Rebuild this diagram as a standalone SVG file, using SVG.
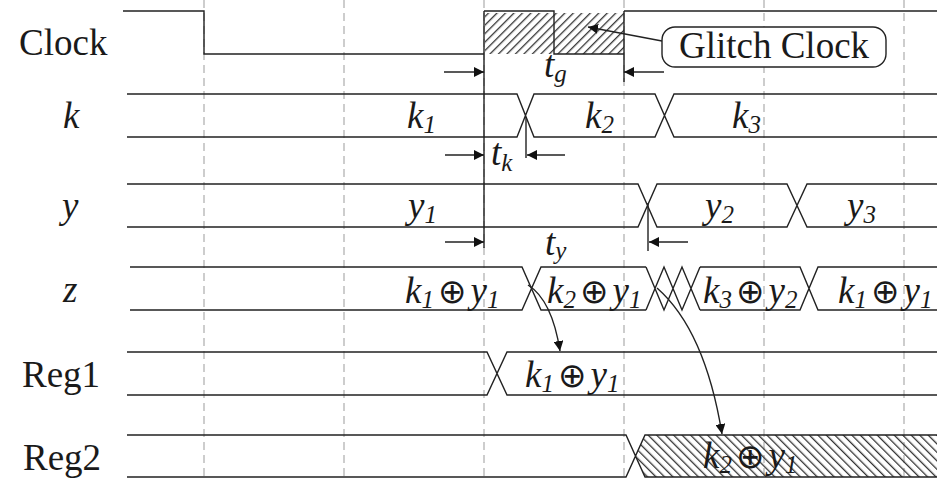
<svg xmlns="http://www.w3.org/2000/svg" width="937" height="478" viewBox="0 0 937 478" font-family="Liberation Serif, DejaVu Serif, serif">
<style>
.grid{stroke:#bdbdbd;stroke-width:1.5;stroke-dasharray:8 5;fill:none}
.sig{stroke:#222;stroke-width:1.4;fill:none}
text{fill:#1a1a1a}
.lbl{font-size:37px}
.m{font-size:37px;font-style:italic}
.sub{font-size:25px}
.op{font-size:34px;font-style:normal}
.arr{stroke:#222;stroke-width:1.4;fill:none;marker-end:url(#ah)}
</style>
<defs>
<marker id="ah" markerUnits="userSpaceOnUse" viewBox="0 0 10 10" refX="10" refY="5" markerWidth="10" markerHeight="10" orient="auto"><path d="M0,0 L10,5 L0,10 z" fill="#111"/></marker>
<pattern id="hatchF" patternUnits="userSpaceOnUse" width="6" height="6" patternTransform="rotate(45)"><rect x="0" y="0" width="1.3" height="6" fill="#333"/></pattern>
<pattern id="hatchB" patternUnits="userSpaceOnUse" width="6" height="6" patternTransform="rotate(-45)"><rect x="0" y="0" width="1.3" height="6" fill="#333"/></pattern>
</defs>
<rect width="937" height="478" fill="#fff"/>
<g id="gridlines">
<path class="grid" d="M204,0 V478 M344,0 V478 M484,0 V478 M624,0 V478 M764,0 V478 M904,0 V478"/>
</g>
<g id="clock">
<text class="lbl" x="19" y="55" font-family="Liberation Serif, serif">Clock</text>
<rect x="485" y="13" width="139" height="41" fill="url(#hatchF)"/>
<path class="sig" d="M123,11 H204 V54 H484 M484,11 H554 V54 H624 M624,11 H937"/>
</g>
<g id="glitch">
<rect x="662" y="27" width="224" height="40" rx="13" fill="#fff" stroke="#222" stroke-width="1.4"/>
<text class="lbl" x="774" y="58" text-anchor="middle" font-family="Liberation Serif, serif">Glitch Clock</text>
</g>
<g id="k" font-family="Liberation Serif, serif">
<text class="m" x="63" y="128">k</text>
<path class="sig" d="M127,94 H517 L534,137 H655 L674,94 H937 M127,137 H517 L534,94 H655 L674,137 H937"/>
<text class="m" x="407" y="128">k<tspan class="sub" dy="5">1</tspan></text>
<text class="m" x="585" y="128">k<tspan class="sub" dy="5">2</tspan></text>
<text class="m" x="732" y="128">k<tspan class="sub" dy="5">3</tspan></text>
</g>
<g id="y" font-family="Liberation Serif, serif">
<text class="m" x="62" y="218">y</text>
<path class="sig" d="M127,184 H638 L657,227 H787 L807,184 H937 M127,227 H638 L657,184 H787 L807,227 H937"/>
<text class="m" x="408" y="218">y<tspan class="sub" dy="5">1</tspan></text>
<text class="m" x="705" y="218">y<tspan class="sub" dy="5">2</tspan></text>
<text class="m" x="847" y="218">y<tspan class="sub" dy="5">3</tspan></text>
</g>
<g id="z" font-family="Liberation Serif, serif">
<text class="m" x="63" y="302">z</text>
<path class="sig" d="M130,267 H522 L541,310 H646 M130,310 H522 L541,267 H646 M646,267 L664,310 L682,267 L700,310 M646,310 L664,267 L682,310 L700,267 M700,267 H800 L818,310 H937 M700,310 H800 L818,267 H937"/>
<text class="m" x="405" y="303">k<tspan class="sub" dy="5">1</tspan><tspan class="op" font-family="DejaVu Sans, sans-serif" dx="4" dy="-5">⊕</tspan><tspan dx="4">y</tspan><tspan class="sub" dy="5">1</tspan></text>
<text class="m" x="547" y="303">k<tspan class="sub" dy="5">2</tspan><tspan class="op" font-family="DejaVu Sans, sans-serif" dx="4" dy="-5">⊕</tspan><tspan dx="4">y</tspan><tspan class="sub" dy="5">1</tspan></text>
<text class="m" x="703" y="303">k<tspan class="sub" dy="5">3</tspan><tspan class="op" font-family="DejaVu Sans, sans-serif" dx="4" dy="-5">⊕</tspan><tspan dx="4">y</tspan><tspan class="sub" dy="5">2</tspan></text>
<text class="m" x="838" y="303">k<tspan class="sub" dy="5">1</tspan><tspan class="op" font-family="DejaVu Sans, sans-serif" dx="4" dy="-5">⊕</tspan><tspan dx="4">y</tspan><tspan class="sub" dy="5">1</tspan></text>
</g>
<g id="reg1" font-family="Liberation Serif, serif">
<text class="lbl" x="22" y="387">Reg1</text>
<path class="sig" d="M127,352 H487 L507,395 H937 M127,395 H487 L507,352 H937"/>
<text class="m" x="525" y="387">k<tspan class="sub" dy="5">1</tspan><tspan class="op" font-family="DejaVu Sans, sans-serif" dx="4" dy="-5">⊕</tspan><tspan dx="4">y</tspan><tspan class="sub" dy="5">1</tspan></text>
</g>
<g id="reg2" font-family="Liberation Serif, serif">
<text class="lbl" x="23" y="470">Reg2</text>
<polygon points="636,456 645,435 937,435 937,477 645,477" fill="url(#hatchB)"/>
<path class="sig" d="M127,435 H626 L645,477 H937 M127,477 H626 L645,435 H937"/>
<text class="m" x="703" y="468">k<tspan class="sub" dy="5">2</tspan><tspan class="op" font-family="DejaVu Sans, sans-serif" dx="4" dy="-5">⊕</tspan><tspan dx="4">y</tspan><tspan class="sub" dy="5">1</tspan></text>
</g>
<g id="timing" font-family="Liberation Serif, serif">
<path class="sig" d="M484,11 V248 M624,11 V82 M526,117 V158 M648,203 V251"/>
<text class="m" x="544" y="77">t<tspan class="sub" dy="5">g</tspan></text>
<text class="m" x="491" y="165">t<tspan class="sub" dy="6">k</tspan></text>
<text class="m" x="545" y="255">t<tspan class="sub" dy="4">y</tspan></text>
</g>
<g id="connectors">
<path class="arr" d="M444,72 H484"/>
<path class="arr" d="M664,72 H624"/>
<path class="arr" d="M445,155 H484"/>
<path class="arr" d="M565,155 H527"/>
<path class="arr" d="M445,242 H484"/>
<path class="arr" d="M688,242 H649"/>
<path class="arr" d="M662,41 L588,27"/>
<path class="arr" d="M528,285 Q552,300 560,351"/>
<path class="arr" d="M657,288 Q705,330 722,434"/>
</g>
</svg>
